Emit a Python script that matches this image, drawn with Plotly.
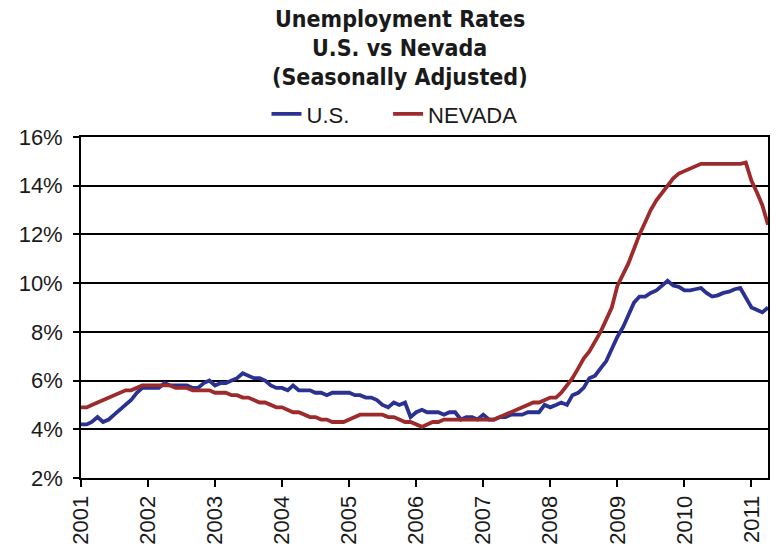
import pandas as pd
import plotly.graph_objects as go

# Monthly unemployment rates (%), Jan 2001 - Apr 2011
us_rate = [
    4.2, 4.2, 4.3, 4.5, 4.3, 4.4, 4.6, 4.8, 5.0, 5.2, 5.5, 5.7,      # 2001
    5.7, 5.7, 5.7, 5.9, 5.8, 5.8, 5.8, 5.8, 5.7, 5.7, 5.9, 6.0,      # 2002
    5.8, 5.9, 5.9, 6.0, 6.1, 6.3, 6.2, 6.1, 6.1, 6.0, 5.8, 5.7,      # 2003
    5.7, 5.6, 5.8, 5.6, 5.6, 5.6, 5.5, 5.5, 5.4, 5.5, 5.5, 5.5,      # 2004
    5.5, 5.4, 5.4, 5.3, 5.3, 5.2, 5.0, 4.9, 5.1, 5.0, 5.1, 4.5,      # 2005
    4.7, 4.8, 4.7, 4.7, 4.7, 4.6, 4.7, 4.7, 4.4, 4.5, 4.5, 4.4,      # 2006
    4.6, 4.4, 4.4, 4.5, 4.5, 4.6, 4.6, 4.6, 4.7, 4.7, 4.7, 5.0,      # 2007
    4.9, 5.0, 5.1, 5.0, 5.4, 5.5, 5.7, 6.1, 6.2, 6.5, 6.8, 7.3,      # 2008
    7.8, 8.2, 8.7, 9.2, 9.45, 9.45, 9.6, 9.7, 9.9, 10.1, 9.9, 9.85,  # 2009
    9.7, 9.7, 9.75, 9.8, 9.6, 9.45, 9.5, 9.6, 9.65, 9.75, 9.8, 9.4,  # 2010
    9.0, 8.9, 8.8, 9.0,                                              # 2011
]
nv_rate = [
    4.9, 4.9, 5.0, 5.1, 5.2, 5.3, 5.4, 5.5, 5.6, 5.6, 5.7, 5.8,      # 2001
    5.8, 5.8, 5.8, 5.8, 5.8, 5.7, 5.7, 5.7, 5.6, 5.6, 5.6, 5.6,      # 2002
    5.5, 5.5, 5.5, 5.4, 5.4, 5.3, 5.3, 5.2, 5.1, 5.1, 5.0, 4.9,      # 2003
    4.9, 4.8, 4.7, 4.7, 4.6, 4.5, 4.5, 4.4, 4.4, 4.3, 4.3, 4.3,      # 2004
    4.4, 4.5, 4.6, 4.6, 4.6, 4.6, 4.6, 4.5, 4.5, 4.4, 4.3, 4.3,      # 2005
    4.2, 4.1, 4.2, 4.3, 4.3, 4.4, 4.4, 4.4, 4.4, 4.4, 4.4, 4.4,      # 2006
    4.4, 4.4, 4.4, 4.5, 4.6, 4.7, 4.8, 4.9, 5.0, 5.1, 5.1, 5.2,      # 2007
    5.3, 5.3, 5.5, 5.8, 6.1, 6.5, 6.9, 7.2, 7.6, 8.0, 8.5, 9.0,      # 2008
    9.9, 10.4, 10.8, 11.4, 12.0, 12.5, 13.0, 13.4, 13.7, 14.0, 14.3, 14.5,  # 2009
    14.6, 14.7, 14.8, 14.9, 14.9, 14.9, 14.9, 14.9, 14.9, 14.9, 14.9, 14.95,  # 2010
    14.2, 13.7, 13.2, 12.4,                                          # 2011
]
months = pd.date_range("2001-01-01", periods=len(us_rate), freq="MS")

year_ticks = [f"{y}-01-01" for y in range(2001, 2012)]
year_labels = [str(y) for y in range(2001, 2012)]

BLUE = "#2B3190"
RED = "#9E2B2C"
TITLE_FONT = "Liberation Sans Narrow, DejaVu Sans Condensed, Liberation Sans, Arial, sans-serif"
BODY_FONT = "Liberation Sans, Arial, sans-serif"
TEXT = "#1a1a1a"

fig = go.Figure()
fig.add_trace(go.Scatter(x=months, y=us_rate, mode="lines", name="U.S.",
                         line=dict(color=BLUE, width=3.8), legend="legend"))
fig.add_trace(go.Scatter(x=months, y=nv_rate, mode="lines", name="NEVADA",
                         line=dict(color=RED, width=3.8), legend="legend2"))

title_lines = ["Unemployment Rates", "U.S. vs Nevada", "(Seasonally Adjusted)"]
title_y = [1.346, 1.262, 1.176]
for text, y in zip(title_lines, title_y):
    fig.add_annotation(text=f"<b>{text}</b>", xref="paper", yref="paper",
                       x=0.464, y=y, xanchor="center", yanchor="middle",
                       showarrow=False,
                       font=dict(family=TITLE_FONT, size=23, color=TEXT))

legend_style = dict(orientation="h", y=1.067, xanchor="left", yanchor="middle",
                    font=dict(family=BODY_FONT, size=22, color=TEXT),
                    bgcolor="rgba(0,0,0,0)")

fig.update_layout(
    width=780, height=556,
    margin=dict(l=81, r=10, t=137, b=78),
    paper_bgcolor="white", plot_bgcolor="white",
    showlegend=True,
    legend=dict(x=0.27, **legend_style),
    legend2=dict(x=0.447, **legend_style),
    xaxis=dict(type="date", range=["2001-01-01", "2011-04-01"],
               tickvals=year_ticks, ticktext=year_labels, tickangle=-90,
               ticks="outside", ticklen=7, tickwidth=1.5, tickcolor="black",
               showline=True, linecolor="black", linewidth=1.8, mirror=True,
               showgrid=False, zeroline=False,
               tickfont=dict(family=BODY_FONT, size=22, color=TEXT)),
    yaxis=dict(range=[2, 16], dtick=2, tick0=2, ticksuffix="%",
               ticks="outside", ticklen=6, tickwidth=1.5, tickcolor="black",
               ticklabelstandoff=6,
               showline=True, linecolor="black", linewidth=1.8, mirror=True,
               showgrid=True, gridcolor="black", gridwidth=2, zeroline=False,
               tickfont=dict(family=BODY_FONT, size=22, color=TEXT)),
)

fig.write_html("out.html")
